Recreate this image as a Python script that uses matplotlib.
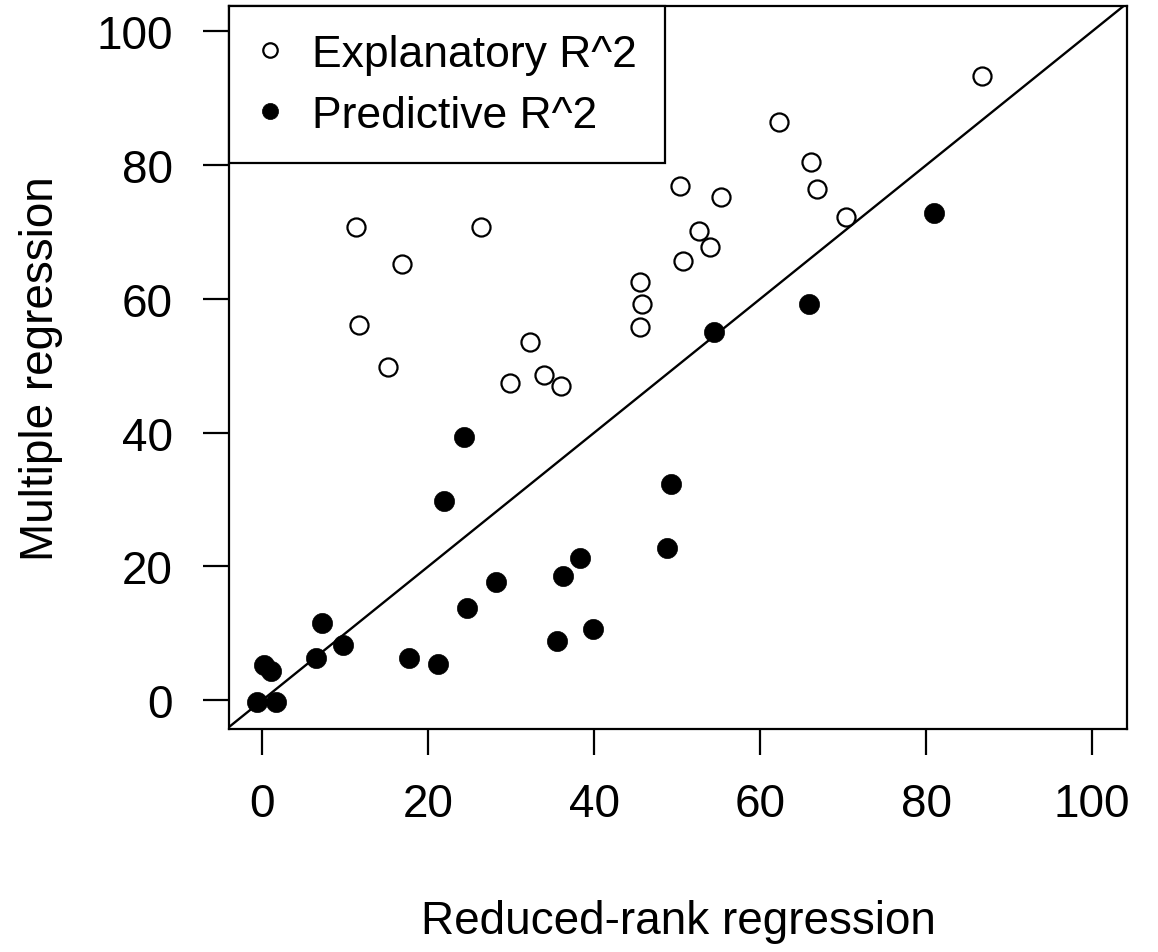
import matplotlib
matplotlib.use("Agg")
import matplotlib.pyplot as plt

# Explanatory R^2 (open circles)
expl_rrr = [11.3, 26.3, 16.8, 45.5, 45.8, 45.5, 11.6, 32.3, 15.1, 29.8, 33.9, 36.0,
            86.7, 62.3, 66.1, 66.8, 70.3, 50.4, 55.3, 52.6, 53.9, 50.7]
expl_mr = [70.8, 70.8, 65.2, 62.6, 59.2, 55.8, 56.1, 53.5, 49.8, 47.4, 48.6, 47.0,
           93.4, 86.5, 80.4, 76.5, 72.2, 76.9, 75.2, 70.1, 67.8, 65.7]

# Predictive R^2 (filled circles)
pred_rrr = [24.3, 21.9, 49.2, 48.8, 38.3, 36.2, 28.2, 24.7, 39.8, 35.5, 7.2, 9.7,
            6.5, 17.7, 21.2, 0.2, 1.0, -0.6, 1.7, 80.9, 65.9, 54.4]
pred_mr = [39.4, 29.8, 32.4, 22.8, 21.2, 18.5, 17.7, 13.8, 10.7, 8.9, 11.6, 8.2,
           6.3, 6.3, 5.4, 5.2, 4.3, -0.2, -0.2, 72.8, 59.3, 55.0]

ticks = [0, 20, 40, 60, 80, 100]

plt.rcParams['font.family'] = ['Liberation Sans', 'DejaVu Sans']
fs = 33

fig = plt.figure(figsize=(11.58, 9.53), dpi=100)
ax = fig.add_axes([0.1978, 0.2340, 0.7754, 0.7587])

ax.axline((0, 0), slope=1, color='black', lw=1.7, zorder=1)
ax.plot(expl_rrr, expl_mr, linestyle='none', marker='o', markersize=13,
        markerfacecolor='white', markeredgecolor='black', markeredgewidth=1.6,
        label='Explanatory R^2', zorder=3)
ax.plot(pred_rrr, pred_mr, linestyle='none', marker='o', markersize=14.5,
        markerfacecolor='black', markeredgecolor='black', markeredgewidth=0.5,
        label='Predictive R^2', zorder=3)

ax.set_xlim(-4.0, 104.2)
ax.set_ylim(-4.3, 103.8)
ax.set_xticks(ticks)
ax.set_yticks(ticks)
ax.tick_params(labelsize=fs, length=18.5, width=1.6, direction='out')
ax.tick_params(axis='x', pad=20)
ax.tick_params(axis='y', pad=22)
for s in ax.spines.values():
    s.set_linewidth(1.6)

ax.set_xlabel('Reduced-rank regression', fontsize=fs, labelpad=52)
ax.set_ylabel('Multiple regression', fontsize=fs, labelpad=24)

leg = ax.legend(loc='upper left', bbox_to_anchor=(0, 1), borderaxespad=0,
                fontsize=32, frameon=True, fancybox=False, framealpha=1,
                edgecolor='black', borderpad=0.62, handlelength=0.6,
                handletextpad=0.65, labelspacing=0.45, markerscale=0.8)
leg.get_frame().set_linewidth(1.6)

fig.savefig('out.png', dpi=100)
